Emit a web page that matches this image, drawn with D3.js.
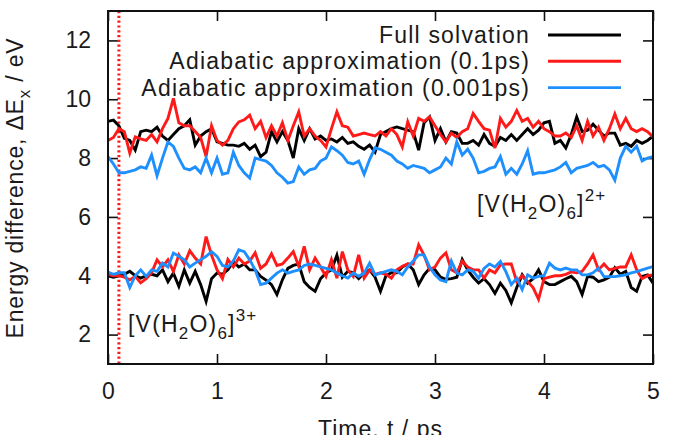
<!DOCTYPE html>
<meta charset="utf-8">
<script src="https://cdn.jsdelivr.net/npm/d3@7/dist/d3.min.js"></script>
<style>
  body { margin: 0; background: #fff; }
  text { font-family: "Liberation Sans", Arial, sans-serif; fill: #1a1a1a; }
</style>
<body>
<svg id="chart" width="673" height="435"></svg>
<script>
// sample times, one frame every 0.05 ps
var time = d3.range(101).map(function(i) { return +(i * 0.05).toFixed(2); });

// [V(H2O)6]2+ band
var full2 = [9.25,9.29,9.1,8.67,8.6,8.27,8.9,8.95,8.9,9.05, 8.75,8.6,8.8,9.0,9.1,9.3,8.44,8.75,8.9,9.0,
             8.55,8.5,8.44,8.44,8.4,8.5,8.3,8.44,8.05,8.2, 8.9,8.55,8.9,8.6,8.0,9.0,8.6,9.0,8.65,8.75,
             8.6,8.65,8.55,8.7,8.5,8.55,8.4,8.3,8.44,8.2, 8.8,8.9,9.0,9.06,9.0,8.95,8.9,8.27,9.2,9.4,
             8.6,9.0,8.55,8.9,8.85,8.5,8.5,8.6,8.44,8.8, 8.5,8.4,8.7,8.6,8.8,8.6,8.8,9.0,8.8,8.95,
             9.2,9.25,8.5,8.6,8.34,8.8,9.4,8.9,8.95,9.15, 8.95,8.75,8.85,8.85,8.44,8.5,8.4,8.6,8.5,8.6, 8.75];
var adia2 = [8.6,8.7,9.0,8.9,8.17,8.72,8.65,8.6,8.8,8.55, 9.0,9.35,10.03,9.2,9.1,9.1,8.9,8.7,8.05,9.1,
             8.6,8.44,8.6,9.0,9.23,9.3,9.46,9.0,9.25,8.7, 9.1,8.75,9.2,8.6,9.1,9.57,8.75,9.0,8.75,8.6,
             8.38,9.0,9.57,9.1,9.05,8.75,8.8,8.85,8.8,8.75, 8.9,8.75,9.0,8.8,8.38,9.23,8.75,9.35,9.25,9.4,
             9.1,8.8,8.55,8.85,8.7,8.9,9.0,9.52,9.25,9.0, 8.95,8.34,9.35,9.05,9.25,9.62,9.25,9.35,9.05,9.25,
             9.0,8.9,8.75,8.75,8.85,8.7,9.1,8.6,9.25,8.75, 9.05,8.6,9.0,9.5,9.0,9.35,9.0,8.9,9.0,8.9, 8.72];
var fast2 = [8.05,7.8,7.5,7.5,7.55,7.6,7.7,7.65,8.1,7.4, 8.0,8.55,8.4,8.0,7.65,7.6,7.7,7.5,8.0,7.5,
             8.0,7.45,7.5,8.2,7.75,7.5,7.32,8.0,7.95,7.9, 7.75,7.5,7.35,7.15,7.2,7.7,7.45,7.6,7.65,7.9,
             8.0,8.38,8.25,8.1,7.85,7.8,7.9,7.45,7.95,8.35, 8.3,8.2,8.1,7.9,7.8,7.65,7.75,7.7,7.65,7.5,
             7.6,7.7,8.0,7.8,8.55,8.1,8.3,8.0,7.5,7.55, 7.65,7.7,8.05,7.45,7.65,7.45,7.8,8.25,7.45,7.5,
             7.5,7.55,7.6,7.7,7.85,7.5,7.65,7.7,7.75,7.85, 7.7,7.75,7.6,7.25,8.0,8.4,8.2,8.4,7.9,8.0, 8.05];

// [V(H2O)6]3+ band
var full3 = [4.0,3.95,4.0,4.05,4.15,4.0,3.92,4.0,4.05,4.0, 4.2,3.8,4.09,3.64,4.2,3.75,4.15,3.7,3.13,3.9,
             4.09,4.05,4.2,4.48,4.3,4.4,4.2,4.2,3.98,3.85, 3.7,3.36,3.86,4.25,4.35,4.4,3.8,3.6,3.47,3.9,
             4.1,4.2,4.7,3.95,4.15,4.1,3.9,4.1,4.2,3.95, 3.47,4.0,4.1,4.1,4.3,4.4,4.2,3.7,4.03,4.25,
             4.2,3.95,3.88,3.9,3.95,4.55,4.2,3.95,3.75,3.9, 3.7,3.4,3.75,3.5,3.08,3.6,4.03,3.75,3.9,4.2,
             3.8,3.7,3.7,3.8,3.9,3.98,3.8,3.36,3.98,3.95, 3.8,3.86,3.95,4.27,4.05,4.15,3.6,3.47,3.98,4.03, 3.75];
var adia3 = [4.05,4.0,4.0,3.95,3.86,3.98,3.76,3.9,4.1,4.54, 4.3,4.54,4.15,4.71,4.4,4.85,4.6,4.4,5.33,4.7,
             4.2,3.9,4.55,4.3,4.6,4.4,4.5,4.78,4.25,4.4, 4.75,4.35,4.4,4.6,4.82,4.32,5.0,4.2,4.6,4.3,
             3.98,4.55,3.92,4.82,4.2,3.98,4.71,3.92,4.2,4.05, 4.1,4.05,3.92,4.2,4.32,4.4,4.4,5.05,4.7,4.2,
             4.3,4.6,4.78,4.2,4.1,4.5,4.3,4.2,4.2,3.92, 4.2,4.1,4.37,4.4,4.4,3.8,4.0,3.8,3.6,3.2,
             3.9,3.95,4.0,4.0,4.05,4.13,4.1,4.15,4.4,4.71, 4.2,4.4,4.2,4.25,4.3,4.3,4.71,4.2,3.9,4.0, 4.03];
var fast3 = [4.12,4.05,4.1,4.1,3.6,4.0,4.2,3.98,4.2,4.15, 4.43,4.3,4.77,4.66,4.54,4.3,4.43,4.54,4.66,4.82,
             4.66,4.35,4.3,4.5,4.88,4.82,4.54,4.2,3.7,3.75, 3.92,4.09,4.2,4.09,4.15,4.2,4.35,4.4,4.35,4.3,
             4.25,4.2,4.09,4.0,3.92,4.09,3.98,4.09,4.43,4.03, 4.09,4.15,4.2,4.15,4.03,4.3,4.5,4.71,4.71,4.3,
             4.03,3.86,3.8,4.5,4.09,4.03,4.2,4.15,3.92,4.25, 4.4,4.3,4.49,4.14,3.7,3.92,3.53,4.03,3.92,3.98,
             4.0,4.43,4.26,4.2,4.26,4.2,4.2,4.03,4.03,4.1, 4.26,3.97,3.97,3.97,4.0,4.03,4.1,4.14,4.2,4.26, 4.31];

var seriesNames = ["Full solvation", "Adiabatic approximation (0.1ps)", "Adiabatic approximation (0.001ps)"];
var seriesColors = ["#000000", "#ff1a1a", "#1e8fff"];
var xTicks = [0, 1, 2, 3, 4, 5];
var yTicks = [2, 4, 6, 8, 10, 12];
var cutoff = 0.1;   // red dotted marker, ps

var svg = d3.select("#chart");
var mL = 108, mR = 653, mT = 11, mB = 364;
var fs = "23px", fsSmall = "17px";

var x = d3.scaleLinear().domain([0, 5]).range([mL, mR]);
var y = d3.scaleLinear().domain([1, 13]).range([mB, mT]);

// inward ticks on all four sides, gnuplot style
var tk = 10;
function noDomain(g) { g.select(".domain").remove(); }
svg.append("g").attr("transform", "translate(0," + mB + ")")
  .call(d3.axisBottom(x).tickValues(xTicks).tickFormat(d3.format("d"))
        .tickSizeInner(-tk).tickSizeOuter(0).tickPadding(19))
  .call(noDomain);
svg.append("g").attr("transform", "translate(0," + mT + ")")
  .call(d3.axisTop(x).tickValues(xTicks).tickSizeInner(-tk).tickSizeOuter(0).tickFormat(""))
  .call(noDomain);
svg.append("g").attr("transform", "translate(" + mL + ",0)")
  .call(d3.axisLeft(y).tickValues(yTicks).tickFormat(d3.format("d"))
        .tickSizeInner(-tk).tickSizeOuter(0).tickPadding(17))
  .call(noDomain);
svg.append("g").attr("transform", "translate(" + mR + ",0)")
  .call(d3.axisRight(y).tickValues(yTicks).tickSizeInner(-tk).tickSizeOuter(0).tickFormat(""))
  .call(noDomain);

svg.selectAll(".tick line").attr("stroke", "#111").attr("stroke-width", 1.6);
svg.selectAll(".tick text").style("font-size", fs).attr("fill", "#1a1a1a");

// red dotted line
svg.append("line")
  .attr("x1", x(cutoff)).attr("x2", x(cutoff))
  .attr("y1", mT).attr("y2", mB)
  .attr("stroke", "#ff1a1a").attr("stroke-width", 3)
  .attr("stroke-dasharray", "2.2,2.6");

var line = d3.line()
  .x(function(d, i) { return x(time[i]); })
  .y(function(d) { return y(d); });

// draw order: black, red, blue per band
[full2, adia2, fast2, full3, adia3, fast3].forEach(function(s, k) {
  svg.append("path")
    .datum(s)
    .attr("d", line)
    .attr("fill", "none")
    .attr("stroke", seriesColors[k % 3])
    .attr("stroke-width", 2.9);
});

// frame
svg.append("rect")
  .attr("x", mL).attr("y", mT)
  .attr("width", mR - mL).attr("height", mB - mT)
  .attr("fill", "none").attr("stroke", "#111").attr("stroke-width", 2);

// legend
seriesNames.forEach(function(name, i) {
  var ly = 35 + i * 26.3;
  svg.append("text")
    .attr("x", 530).attr("y", ly + 8)
    .attr("text-anchor", "end")
    .style("font-size", fs)
    .style("letter-spacing", "1.2px")
    .text(name);
  svg.append("line")
    .attr("x1", 548).attr("x2", 621)
    .attr("y1", ly).attr("y2", ly)
    .attr("stroke", seriesColors[i]).attr("stroke-width", 2.9);
});

// ion labels
function ionLabel(px, py, charge) {
  var t = svg.append("text").attr("x", px).attr("y", py)
    .style("font-size", fs).style("letter-spacing", "1.2px");
  t.append("tspan").text("[V(H");
  t.append("tspan").attr("dy", 7).style("font-size", fsSmall).text("2");
  t.append("tspan").attr("dy", -7).text("O)");
  t.append("tspan").attr("dy", 7).style("font-size", fsSmall).text("6");
  t.append("tspan").attr("dy", -7).text("]");
  t.append("tspan").attr("dy", -11).style("font-size", fsSmall).text(charge);
}
ionLabel(477, 212, "2+");
ionLabel(128, 332, "3+");

// axis titles
svg.append("text")
  .attr("x", x(2.5)).attr("y", 437)
  .attr("text-anchor", "middle")
  .style("font-size", fs).style("letter-spacing", "1px")
  .text("Time, t / ps");

var yt = svg.append("text")
  .attr("transform", "translate(23,188) rotate(-90)")
  .attr("text-anchor", "middle")
  .style("font-size", fs).style("letter-spacing", "0.8px");
yt.append("tspan").text("Energy difference, \u0394E");
yt.append("tspan").attr("dy", 7).style("font-size", fsSmall).text("x");
yt.append("tspan").attr("dy", -7).text(" / eV");
</script>
</body>
